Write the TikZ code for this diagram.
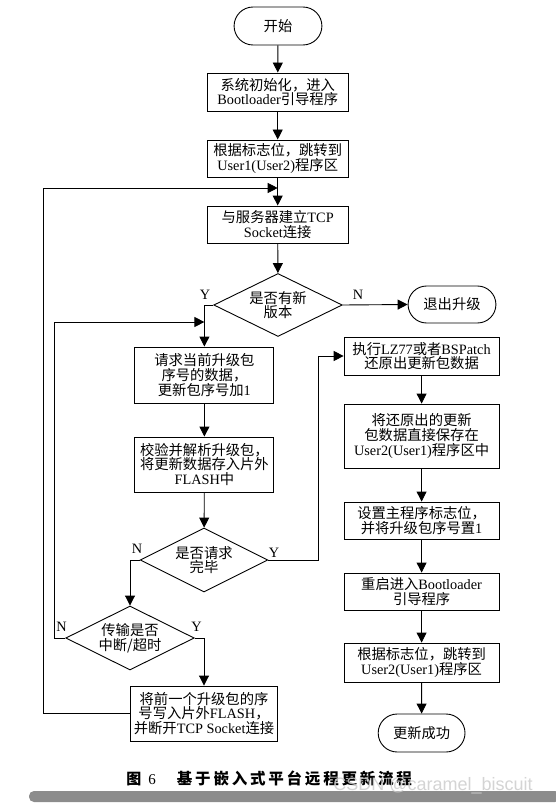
\documentclass[tikz,border=0pt]{standalone}
\usepackage{fontspec}
\setmainfont{Liberation Serif}
\setsansfont{Liberation Sans}
\newfontfamily\cjk{Noto Sans CJK SC}
\newfontfamily\capfont[LetterSpace=18]{Noto Sans CJK SC}
\usetikzlibrary{shapes.geometric,shapes.misc,arrows.meta}
\newcommand*{\en}[1]{{\rmfamily #1}}

\begin{document}
\begin{tikzpicture}[x=1pt,y=-1pt,line width=0.9pt,
	procBox/.style={draw, minimum width=141pt, minimum height=38pt, inner sep=1pt, align=center, font=\flowFont},
	termNode/.style={draw, rounded rectangle, minimum width=94.5pt, minimum height=38pt, font=\flowFont},
	decideNode/.style={draw, diamond, aspect=2.04, inner sep=0pt, minimum width=128.5pt, minimum height=63pt, align=center, font=\flowFont},
	flowArrow/.style={-{Triangle[length=10pt,width=10pt]}},
	ynLabel/.style={inner sep=0pt, font=\rmfamily\fontsize{14.3}{15}\selectfont}]

\def\flowFont{\cjk\fontsize{14.3}{14.8}\selectfont}
% turning points of the loops
\def\loopX{43.5}
\def\retryX{54}
\def\doneX{318.5}

\useasboundingbox (0,0) rectangle (555,805);

% main column
\node[termNode] (start) at (278,26) {开始};
\node[procBox] (init) at (277.7,92) {系统初始化，进入\\\en{Bootloader}引导程序};
\node[procBox, minimum height=37pt] (jumpA) at (277.7,158.5) {根据标志位，跳转到\\\en{User1(User2)}程序区};
\node[procBox, minimum height=37pt] (tcp) at (277.7,224.5) {与服务器建立\en{TCP}\\\en{Socket}连接};
\node[decideNode] (newVer) at (278,305) {是否有新\\版本};
\node[termNode, minimum height=37pt] (quit) at (452,304.5) {退出升级};

% left column
\node[procBox, minimum width=139pt, minimum height=56pt] (request) at (204.4,375) {请求当前升级包\\序号的数据，\\更新包序号加\en{1}};
\node[procBox, minimum width=139pt, minimum height=55pt] (verify) at (204.4,464.5) {校验并解析升级包，\\将更新数据存入片外\\\en{FLASH}中};
\node[decideNode, minimum width=127.5pt, minimum height=64pt] (reqDone) at (204,560) {是否请求\\完毕};
\node[decideNode, minimum height=64pt] (broken) at (130,638) {传输是否\\中断/超时};
\node[procBox, minimum width=146.5pt, minimum height=55pt] (save) at (204,713.5) {将前一个升级包的序\\号写入片外\en{FLASH}，\\并断开\en{TCP Socket}连接};

% right column
\node[procBox, minimum width=155pt] (restore) at (421.6,356) {执行\en{LZ77}或者\en{BSPatch}\\还原出更新包数据};
\node[procBox, minimum width=155pt, minimum height=64pt] (store) at (421.6,436) {将还原出的更新\\包数据直接保存在\\\en{User2(User1)}程序区中};
\node[procBox, minimum width=155pt, minimum height=37pt] (setFlag) at (421.6,520.5) {设置主程序标志位，\\并将升级包序号置\en{1}};
\node[procBox, minimum width=155pt, minimum height=37pt] (reboot) at (421.6,591.5) {重启进入\en{Bootloader}\\引导程序};
\node[procBox, minimum width=155pt, minimum height=39pt] (jumpB) at (421.6,662.5) {根据标志位，跳转到\\\en{User2(User1)}程序区};
\node[termNode, minimum width=93.5pt] (done) at (421.6,733) {更新成功};

% loop coordinates
\coordinate (loopIn) at (277.7,188);
\coordinate (loopCorner) at (\loopX,188);
\coordinate (retryIn) at (204.4,322);
\coordinate (retryCorner) at (\retryX,322);
\coordinate (doneBend) at (\doneX,560);

\draw[flowArrow] (start) -- (init);
\draw[flowArrow] (init) -- (jumpA);
\draw[flowArrow] (jumpA) -- (tcp);
\draw[flowArrow] (tcp) -- (newVer);
\draw[flowArrow] (newVer.east) -- (quit.west);
\draw[flowArrow] (newVer.west) -| (request.north);
\draw[flowArrow] (request) -- (verify);
\draw[flowArrow] (verify) -- (reqDone);
\draw[flowArrow] (reqDone.east) -- (doneBend) |- (restore.west);
\draw[flowArrow] (reqDone.west) -| (broken.north);
\draw[flowArrow] (broken.east) -| (save.north);
\draw[flowArrow] (broken.west) -| (retryCorner) -- (retryIn);
\draw[flowArrow] (save.west) -| (loopCorner) -- (loopIn);
\draw[flowArrow] (restore) -- (store);
\draw[flowArrow] (store) -- (setFlag);
\draw[flowArrow] (setFlag) -- (reboot);
\draw[flowArrow] (reboot) -- (jumpB);
\draw[flowArrow] (jumpB) -- (done);

\node[ynLabel] (yNew) at (205,295) {Y};
\node[ynLabel] (nNew) at (358,295) {N};
\node[ynLabel] (nReq) at (137,549) {N};
\node[ynLabel] (yReq) at (274,553) {Y};
\node[ynLabel] (nBroken) at (61.6,627) {N};
\node[ynLabel] (yBroken) at (196.5,627) {Y};

% caption and page furniture
\node[anchor=west, inner sep=0pt] (caption) at (126,778) {{\cjk\bfseries\fontsize{15}{17}\selectfont 图}\hspace{7pt}{\fontsize{15}{17}\selectfont 6}\hspace{21pt}{\capfont\bfseries\fontsize{15.5}{17}\selectfont 基于嵌入式平台远程更新流程}};
\fill[black!45, rounded corners=5pt] (29,791) rectangle (560,802);
\node[text=black!20, opacity=0.85, inner sep=0pt, font=\sffamily\fontsize{18}{20}\selectfont] (mark) at (433,786) {CSDN @caramel\_biscuit};

\end{tikzpicture}
\end{document}
